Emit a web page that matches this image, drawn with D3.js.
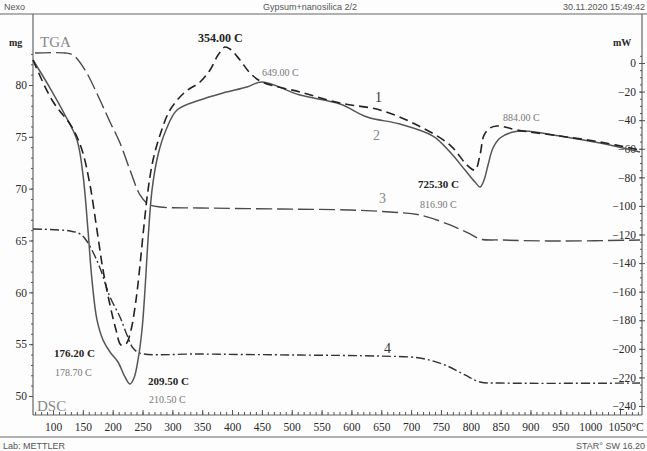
<!DOCTYPE html>
<html><head><meta charset="utf-8">
<script src="https://cdn.jsdelivr.net/npm/d3@7/dist/d3.min.js"></script>
<style>body{margin:0;background:#fff} svg{display:block}</style>
</head><body>
<svg id="c" width="647" height="451"></svg>
<script>
// ---- tick labels ----
const xTicks = d3.range(100, 1051, 50);
const mgTicks = [80, 75, 70, 65, 60, 55, 50];
const mWTicks = d3.range(0, -241, -20);

// ---- DSC curve 1 (dashed) : temperature (°C), heat flow (mW) ----
const dsc1T = [66.5, 98.3, 131.8, 148.6, 162.0, 173.7, 183.8, 195.5, 205.6, 213.9, 222.3, 230.7, 239.1, 245.8, 252.5, 259.2, 267.6, 279.3, 296.0, 321.2, 346.3, 363.1, 376.5, 388.2, 396.6, 413.3, 430.1, 450.2, 513.8, 580.9, 647.9, 709.9, 765.2, 793.7, 807.1, 815.4, 822.2, 832.2, 843.9, 857.3, 877.4, 949.5, 1016.5, 1083.5];
const dsc1V = [2.1, -25.9, -44.8, -60.9, -85.4, -116.9, -144.8, -169.3, -186.8, -197.3, -196.6, -186.8, -165.8, -141.3, -113.4, -88.9, -67.9, -50.4, -32.9, -20.3, -13.3, -4.9, 5.6, 11.2, 9.8, 2.1, -7.0, -13.3, -20.3, -28.0, -32.9, -43.4, -57.4, -71.4, -74.9, -64.4, -50.4, -45.5, -44.1, -44.8, -46.9, -51.1, -55.3, -60.9];

// ---- DSC curve 2 (solid) ----
const dsc2T = [66.5, 95.0, 120.1, 140.2, 150.3, 158.6, 165.3, 173.7, 183.8, 195.5, 208.9, 220.6, 229.0, 235.7, 242.4, 249.1, 254.1, 259.2, 265.9, 275.9, 289.3, 307.8, 346.3, 384.8, 425.0, 450.2, 513.8, 580.9, 626.1, 681.4, 736.7, 765.2, 790.3, 807.1, 815.4, 822.2, 828.9, 837.2, 849.0, 870.7, 890.8, 949.5, 1016.5, 1083.5];
const dsc2V = [2.1, -17.5, -36.4, -53.9, -78.4, -116.9, -151.8, -179.8, -193.8, -202.2, -209.2, -219.7, -224.6, -220.4, -207.8, -186.8, -158.8, -123.8, -88.9, -64.4, -46.9, -32.9, -25.9, -21.0, -16.8, -13.3, -22.4, -28.7, -37.8, -42.7, -51.1, -62.3, -74.9, -83.3, -86.8, -81.9, -71.4, -59.5, -52.5, -48.3, -47.6, -51.1, -56.0, -62.3];

// ---- TGA curve 3 (long dash) : mass (mg) ----
const tga3T = [69.8, 120.1, 133.5, 153.6, 178.7, 195.5, 212.3, 229.0, 245.8, 259.2, 279.3, 346.3, 480.3, 597.6, 664.6, 714.9, 765.2, 798.7, 815.4, 849.0, 949.5, 1083.5];
const tga3V = [83.09, 83.09, 82.89, 81.45, 78.55, 76.43, 74.41, 71.80, 69.39, 68.52, 68.23, 68.14, 68.04, 67.94, 67.75, 67.46, 66.50, 65.63, 65.14, 65.05, 64.95, 65.05];

// ---- TGA curve 4 (dash-dot) ----
const tga4T = [66.5, 128.5, 145.2, 155.3, 165.3, 178.7, 195.5, 212.3, 224.0, 234.0, 245.8, 346.3, 513.8, 647.9, 714.9, 756.8, 790.3, 815.4, 849.0, 1083.5];
const tga4V = [66.11, 65.92, 65.63, 65.05, 64.08, 62.35, 59.55, 57.62, 55.88, 54.63, 54.14, 54.05, 53.95, 53.85, 53.66, 52.99, 52.03, 51.35, 51.25, 51.25];

// ---- annotations ----
const peakLabels = ["354.00 C", "649.00 C", "725.30 C", "816.90 C", "884.00 C", "176.20 C", "178.70 C", "209.50 C", "210.50 C"];
const curveNames = ["1", "2", "3", "4"];

const svg = d3.select("#c");
const W = 647, H = 451;
const L = 33, R = 642, T = 14, B = 415;

const x = d3.scaleLinear().domain([100, 1050]).range([53, 620]);
const yMg = d3.scaleLinear().domain([50, 80]).range([396, 85]);
const yMW = d3.scaleLinear().domain([-240, 0]).range([406, 63]);

const serif = "'Liberation Serif','DejaVu Serif',serif";
const sans = "'Liberation Sans','DejaVu Sans',sans-serif";
const ink = "#2a2a2a";

svg.append("rect").attr("width", W).attr("height", H).attr("fill", "#fdfdfd");

// header / footer
const hdr = svg.append("g").attr("font-family", sans).attr("font-size", 9).attr("fill", "#555");
hdr.append("text").attr("x", 4).attr("y", 10).text("Nexo");
hdr.append("text").attr("x", 310).attr("y", 10).attr("text-anchor", "middle").text("Gypsum+nanosilica 2/2");
hdr.append("text").attr("x", 645).attr("y", 10).attr("text-anchor", "end").text("30.11.2020 15:49:42");
hdr.append("text").attr("x", 3).attr("y", 449).text("Lab: METTLER");
hdr.append("text").attr("x", 645).attr("y", 449).attr("text-anchor", "end").text("STAR\u00B0 SW 16.20");

// frame lines
const fr = svg.append("g").attr("stroke", "#666").attr("stroke-width", 1.2);
fr.append("line").attr("x1", 0).attr("x2", W).attr("y1", T).attr("y2", T);
fr.append("line").attr("x1", 0).attr("x2", W).attr("y1", 437).attr("y2", 437);
fr.append("line").attr("x1", L).attr("x2", R).attr("y1", B).attr("y2", B);
fr.append("line").attr("x1", L).attr("x2", L).attr("y1", T).attr("y2", B);
fr.append("line").attr("x1", R).attr("x2", R).attr("y1", T).attr("y2", B);

function styleAxis(g) {
  g.select(".domain").remove();
  g.selectAll("line").attr("stroke", "#555");
  g.selectAll("text").attr("font-family", serif).attr("fill", ink).attr("font-size", 11.5);
}

// left mg axis
svg.append("g").attr("transform", `translate(${L},0)`)
  .call(d3.axisLeft(yMg).tickValues(d3.range(50, 84, 1)).tickSize(2).tickFormat(""))
  .call(styleAxis);
svg.append("g").attr("transform", `translate(${L},0)`)
  .call(d3.axisLeft(yMg).tickValues(mgTicks).tickSize(4).tickPadding(2).tickFormat(d3.format("d")))
  .call(styleAxis);

// right mW axis (labels inside)
svg.append("g").attr("transform", `translate(${R},0)`)
  .call(d3.axisLeft(yMW).tickValues(d3.range(5, -245, -5)).tickSize(2).tickFormat(""))
  .call(styleAxis);
svg.append("g").attr("transform", `translate(${R},0)`)
  .call(d3.axisLeft(yMW).tickValues(mWTicks).tickSizeInner(4).tickSizeOuter(0).tickPadding(2).tickFormat(d3.format("d")))
  .call(styleAxis)
  .call(g => g.selectAll(".tick line").attr("x2", 3).attr("x1", -3));

// bottom axis
svg.append("g").attr("transform", `translate(0,${B})`)
  .call(d3.axisBottom(x).tickValues(d3.range(70, 1081, 10)).tickSize(-3).tickFormat(""))
  .call(styleAxis);
svg.append("g").attr("transform", `translate(0,${B})`)
  .call(d3.axisBottom(x).tickValues(xTicks).tickSize(-5).tickPadding(8).tickFormat(d => d === 1050 ? "1050\u00B0C" : d))
  .call(styleAxis)
  .call(g => g.selectAll(".tick text").filter(d => d === 1050).attr("text-anchor", "start").attr("dx", -12));

// unit labels
const ul = svg.append("g").attr("font-family", serif).attr("fill", ink).attr("font-size", 10).attr("font-weight", "bold");
ul.append("text").attr("x", 9).attr("y", 46).text("mg");
ul.append("text").attr("x", 613).attr("y", 46).text("mW");
const big = svg.append("g").attr("font-family", serif).attr("fill", "#888").attr("font-size", 15);
big.append("text").attr("x", 40).attr("y", 47).text("TGA");
big.append("text").attr("x", 37).attr("y", 411).text("DSC");

// curves
const mk = (Ts, Vs) => Ts.map((t, i) => [t, Vs[i]]);
const lineMW = d3.line().x(d => x(d[0])).y(d => yMW(d[1])).curve(d3.curveCatmullRom.alpha(0.5));
const lineMg = d3.line().x(d => x(d[0])).y(d => yMg(d[1])).curve(d3.curveCatmullRom.alpha(0.5));

const cg = svg.append("g").attr("fill", "none").attr("stroke-linejoin", "round");
cg.append("path").attr("d", lineMg(mk(tga3T, tga3V))).attr("stroke", "#4a4a4a").attr("stroke-width", 1.4).attr("stroke-dasharray", "16,5");
cg.append("path").attr("d", lineMg(mk(tga4T, tga4V))).attr("stroke", "#333").attr("stroke-width", 1.4).attr("stroke-dasharray", "9,3,2,3");
cg.append("path").attr("d", lineMW(mk(dsc2T, dsc2V))).attr("stroke", "#555").attr("stroke-width", 1.5);
cg.append("path").attr("d", lineMW(mk(dsc1T, dsc1V))).attr("stroke", "#222").attr("stroke-width", 1.6).attr("stroke-dasharray", "9,5");

// annotation text
const ann = svg.append("g").attr("font-family", serif);
const bold = [
  [peakLabels[0], 198, 42, 12],
  [peakLabels[2], 418, 188, 11],
  [peakLabels[5], 54, 357, 11],
  [peakLabels[7], 148, 385, 11]
];
bold.forEach(([t, xx, yy, fs]) => ann.append("text").attr("x", xx).attr("y", yy).attr("font-size", fs).attr("font-weight", "bold").attr("fill", "#222").text(t));
const gray = [
  [peakLabels[1], 262, 76],
  [peakLabels[3], 420, 208],
  [peakLabels[4], 503, 121],
  [peakLabels[6], 55, 376],
  [peakLabels[8], 149, 403]
];
gray.forEach(([t, xx, yy]) => ann.append("text").attr("x", xx).attr("y", yy).attr("font-size", 10).attr("fill", "#777").text(t));
const nums = [[curveNames[0], 375, 102], [curveNames[1], 373, 140], [curveNames[2], 379, 203], [curveNames[3], 384, 353]];
nums.forEach(([t, xx, yy], i) => ann.append("text").attr("x", xx).attr("y", yy).attr("font-size", 14).attr("fill", i === 1 || i === 2 ? "#888" : "#333").text(t));
</script>
</body></html>
